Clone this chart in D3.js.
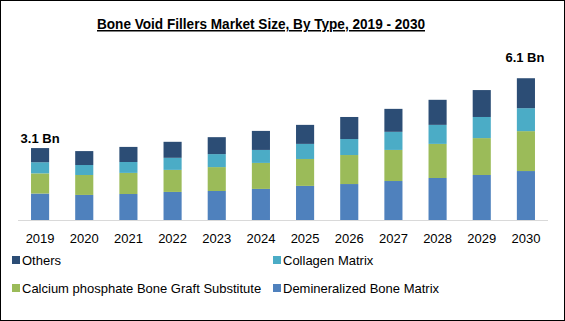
<!DOCTYPE html>
<html><head><meta charset="utf-8">
<script src="https://cdn.jsdelivr.net/npm/d3@7"></script>
<style>body{margin:0;background:#fff}svg{display:block}</style>
</head><body><svg id="c" width="565" height="321"></svg>
<script>
const years = ["2019","2020","2021","2022","2023","2024","2025","2026","2027","2028","2029","2030"];
const dbm = [1.14,1.08,1.12,1.21,1.25,1.34,1.47,1.55,1.68,1.81,1.94,2.11];
const calcium = [0.87,0.86,0.91,0.95,1.03,1.12,1.16,1.25,1.34,1.47,1.59,1.72];
const collagen = [0.48,0.43,0.47,0.52,0.56,0.56,0.65,0.69,0.78,0.82,0.91,0.99];
const others = [0.61,0.60,0.65,0.69,0.73,0.82,0.82,0.95,0.99,1.08,1.16,1.29];
const seriesNames = ["Demineralized Bone Matrix","Calcium phosphate Bone Graft Substitute","Collagen Matrix","Others"];
const colors = ["#4F81BD","#9BBB59","#4BACC6","#2C4D75"];
const annotations = [{year:"2019", text:"3.1 Bn"},{year:"2030", text:"6.1 Bn"}];
const title = "Bone Void Fillers Market Size, By Type, 2019 - 2030";

const svg = d3.select("#c");
const font = "'Liberation Sans', Arial, sans-serif";
svg.append("rect").attr("x",0.5).attr("y",0.5).attr("width",564).attr("height",320)
  .attr("fill","#fff").attr("stroke","#000").attr("stroke-width",1);

svg.append("text").attr("x",261).attr("y",29).attr("text-anchor","middle")
  .attr("font-family",font).attr("font-weight","bold").attr("font-size",15)
  .attr("textLength",328).attr("lengthAdjust","spacingAndGlyphs")
  .attr("text-decoration","underline").attr("fill","#000").text(title);

const table = years.map((y,i)=>({year:y, s0:dbm[i], s1:calcium[i], s2:collagen[i], s3:others[i]}));
const keys = ["s0","s1","s2","s3"];
const stacked = d3.stack().keys(keys)(table);

const x = d3.scaleBand().domain(years).range([18,548]).paddingInner(0.59).paddingOuter(0.295);
const y = d3.scaleLinear().domain([0,6.12]).range([220,78]);

const g = svg.append("g");
stacked.forEach((layer,li)=>{
  g.selectAll(null).data(layer).enter().append("rect")
    .attr("x",d=>x(d.data.year)).attr("width",x.bandwidth())
    .attr("y",d=>y(d[1])).attr("height",d=>y(d[0])-y(d[1]))
    .attr("fill",colors[li]);
});

svg.append("line").attr("x1",18).attr("x2",548).attr("y1",220.5).attr("y2",220.5)
  .attr("stroke","#d9d9d9").attr("stroke-width",1);

const xa = svg.append("g").attr("transform","translate(0,220)")
  .call(d3.axisBottom(x).tickSize(0).tickPadding(14));
xa.select(".domain").remove();
xa.selectAll("text").attr("font-family",font).attr("font-size",13).attr("fill","#000");

const totals = years.map((y0,i)=>dbm[i]+calcium[i]+collagen[i]+others[i]);
annotations.forEach((a,k)=>{
  const i = years.indexOf(a.year);
  const gap = k === 0 ? 5 : 16;
  svg.append("text").attr("x",x(a.year)+x.bandwidth()/2 - (k===0?0:1)).attr("y",y(totals[i])-gap)
    .attr("text-anchor","middle").attr("font-family",font).attr("font-weight","bold")
    .attr("font-size",13).attr("fill","#000").text(a.text);
});

const legendItems = [
  {name:seriesNames[3], color:colors[3], x:12, y:260},
  {name:seriesNames[2], color:colors[2], x:273, y:260},
  {name:seriesNames[1], color:colors[1], x:12, y:288},
  {name:seriesNames[0], color:colors[0], x:273, y:288}
];
const lg = svg.selectAll(".lg").data(legendItems).enter().append("g");
lg.append("rect").attr("x",d=>d.x).attr("y",d=>d.y-4).attr("width",8).attr("height",8).attr("fill",d=>d.color);
lg.append("text").attr("x",d=>d.x+10).attr("y",d=>d.y).attr("dy","0.35em")
  .attr("font-family",font).attr("font-size",13).attr("fill","#000").text(d=>d.name);
</script></body></html>
